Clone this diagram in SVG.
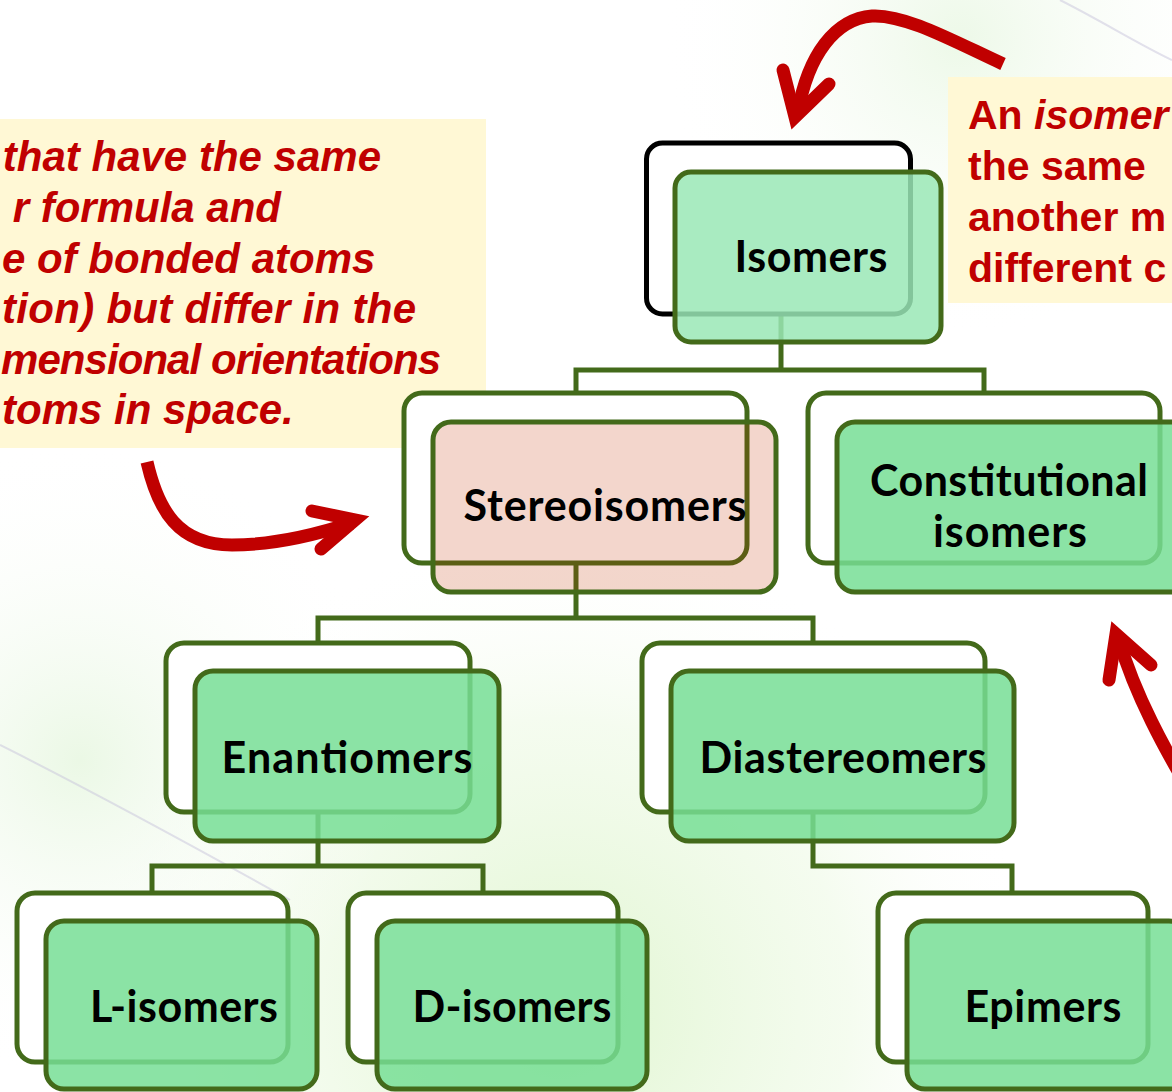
<svg xmlns="http://www.w3.org/2000/svg" width="1172" height="1092" viewBox="0 0 1172 1092">
  <defs>
    <radialGradient id="bgGlow1" cx="560" cy="1010" r="480" gradientUnits="userSpaceOnUse">
      <stop offset="0" stop-color="#D8F3C4" stop-opacity="0.8"/>
      <stop offset="0.6" stop-color="#E8F8DC" stop-opacity="0.45"/>
      <stop offset="1" stop-color="#FFFFFF" stop-opacity="0"/>
    </radialGradient>
    <radialGradient id="bgGlow2" cx="80" cy="760" r="320" gradientUnits="userSpaceOnUse">
      <stop offset="0" stop-color="#E2F5DA" stop-opacity="0.7"/>
      <stop offset="1" stop-color="#FFFFFF" stop-opacity="0"/>
    </radialGradient>
    <radialGradient id="bgGlow3" cx="960" cy="40" r="300" gradientUnits="userSpaceOnUse">
      <stop offset="0" stop-color="#E8F7E2" stop-opacity="0.8"/>
      <stop offset="1" stop-color="#FFFFFF" stop-opacity="0"/>
    </radialGradient>
    <style>
      .back { fill: #FFFFFF; stroke: #436A1A; stroke-width: 5; }
      .back-black { fill: #FFFFFF; stroke: #000000; stroke-width: 5; }
      .front { fill: #77DE95; fill-opacity: 0.85; stroke: #436A1A; stroke-width: 5; }
      .front-light { fill: #9AE7B6; fill-opacity: 0.85; stroke: #436A1A; stroke-width: 5; }
      .front-pink { fill: #C33200; fill-opacity: 0.2; stroke: #436A1A; stroke-width: 5; }
      .label { font-family: "Lato", "Liberation Sans", sans-serif; font-weight: bold; font-size: 43px; fill: #000000; text-anchor: middle; }
      .conn { fill: none; stroke: #436A1A; stroke-width: 5; }
      .note { fill: #FFF8D5; }
      .notetext { font-family: "Liberation Sans", Arial, sans-serif; font-weight: bold; fill: #C00000; }
      .lefttext { font-size: 42px; font-style: italic; }
      .arrow { fill: none; stroke: #C00000; stroke-width: 13; }
      .arrowhead { fill: none; stroke: #C00000; stroke-width: 13; stroke-linecap: round; stroke-linejoin: miter; stroke-miterlimit: 10; }
    </style>
  </defs>

  <!-- background -->
  <rect x="0" y="0" width="1172" height="1092" fill="#FFFFFF"/>
  <rect x="0" y="0" width="1172" height="1092" fill="url(#bgGlow1)"/>
  <rect x="0" y="0" width="1172" height="1092" fill="url(#bgGlow2)"/>
  <rect x="0" y="0" width="1172" height="1092" fill="url(#bgGlow3)"/>
  <g stroke="#C8C4DC" stroke-width="2" opacity="0.5" fill="none">
    <path d="M0,745 C90,790 200,850 290,900"/>
    <path d="M1060,0 C1100,20 1140,45 1172,60"/>
  </g>

  <!-- note boxes -->
  <g id="note-stereo">
    <rect class="note" x="0" y="119" width="486" height="329"/>
    <text class="notetext lefttext" x="381" y="171" text-anchor="end">that have the same</text>
    <text class="notetext lefttext" x="281" y="222" text-anchor="end">r formula and</text>
    <text class="notetext lefttext" x="2" y="273">e of bonded atoms</text>
    <text class="notetext lefttext" x="2" y="323" textLength="414">tion) but differ in the</text>
    <text class="notetext lefttext" x="1" y="374" textLength="440">mensional orientations</text>
    <text class="notetext lefttext" x="2" y="424">toms in space.</text>
  </g>
  <g id="note-isomer">
    <rect class="note" x="948" y="77" width="224" height="226"/>
    <text class="notetext" font-size="41">
      <tspan x="968" y="129">An <tspan font-style="italic">isomer</tspan></tspan>
      <tspan x="968" y="180">the same</tspan>
      <tspan x="968" y="231">another m</tspan>
      <tspan x="968" y="282">different c</tspan>
    </text>
  </g>

  <!-- connectors -->
  <g id="connectors">
    <path class="conn" d="M781,315 V370 M576,393 V370 H984 V393"/>
    <path class="conn" d="M576,563 V618 M318,643 V618 H813 V643"/>
    <path class="conn" d="M318,812 V866 M152,893 V866 H483 V893"/>
    <path class="conn" d="M813,812 V866 H1012 V893"/>
  </g>

  <!-- nodes -->
  <g id="node-isomers">
    <rect class="back-black" x="646.5" y="143" width="264" height="171" rx="16"/>
    <rect class="front-light" x="675" y="172" width="266" height="170" rx="16"/>
    <text class="label" x="811" y="272" textLength="153">Isomers</text>
  </g>
  <g id="node-stereoisomers">
    <rect class="back" x="404" y="393" width="343" height="170" rx="18"/>
    <rect class="front-pink" x="433" y="422" width="343" height="170" rx="18"/>
    <text class="label" x="605" y="521" textLength="283">Stereoisomers</text>
  </g>
  <g id="node-constitutional">
    <rect class="back" x="808" y="393" width="352" height="170" rx="18"/>
    <rect class="front" x="837" y="422" width="360" height="170" rx="18"/>
    <text class="label" x="1009" y="496" textLength="278">Constitutional</text>
    <text class="label" x="1010" y="547" textLength="154">isomers</text>
  </g>
  <g id="node-enantiomers">
    <rect class="back" x="166" y="643" width="304" height="169" rx="18"/>
    <rect class="front" x="195" y="671" width="304" height="170" rx="18"/>
    <text class="label" x="347" y="773" textLength="251">Enantiomers</text>
  </g>
  <g id="node-diastereomers">
    <rect class="back" x="642" y="643" width="343" height="169" rx="18"/>
    <rect class="front" x="671" y="671" width="343" height="170" rx="18"/>
    <text class="label" x="843" y="773" textLength="287">Diastereomers</text>
  </g>
  <g id="node-l-isomers">
    <rect class="back" x="17" y="893" width="271" height="169" rx="18"/>
    <rect class="front" x="46" y="921" width="271" height="168" rx="18"/>
    <text class="label" x="184" y="1022" textLength="188">L-isomers</text>
  </g>
  <g id="node-d-isomers">
    <rect class="back" x="348" y="893" width="270" height="169" rx="18"/>
    <rect class="front" x="377" y="921" width="270" height="168" rx="18"/>
    <text class="label" x="512" y="1022" textLength="199">D-isomers</text>
  </g>
  <g id="node-epimers">
    <rect class="back" x="878" y="893" width="270" height="169" rx="18"/>
    <rect class="front" x="907" y="921" width="280" height="168" rx="18"/>
    <text class="label" x="1043" y="1022" textLength="157">Epimers</text>
  </g>

  <!-- red annotation arrows -->
  <g id="annotation-arrows">
    <path class="arrow" d="M1003,64 C955,42 905,14 872,16 C835,19 808,55 798,112"/>
    <path class="arrowhead" d="M783,70 L795,117 L829,84"/>
    <path class="arrow" d="M147,462 C158,510 178,545 232,545 C275,545 315,535 352,523"/>
    <path class="arrowhead" d="M312,511 L355,520 L321,549"/>
    <path class="arrow" d="M1195,800 C1165,750 1135,695 1119,640"/>
    <path class="arrowhead" d="M1109,680 L1116,634 L1151,665"/>
  </g>
</svg>
